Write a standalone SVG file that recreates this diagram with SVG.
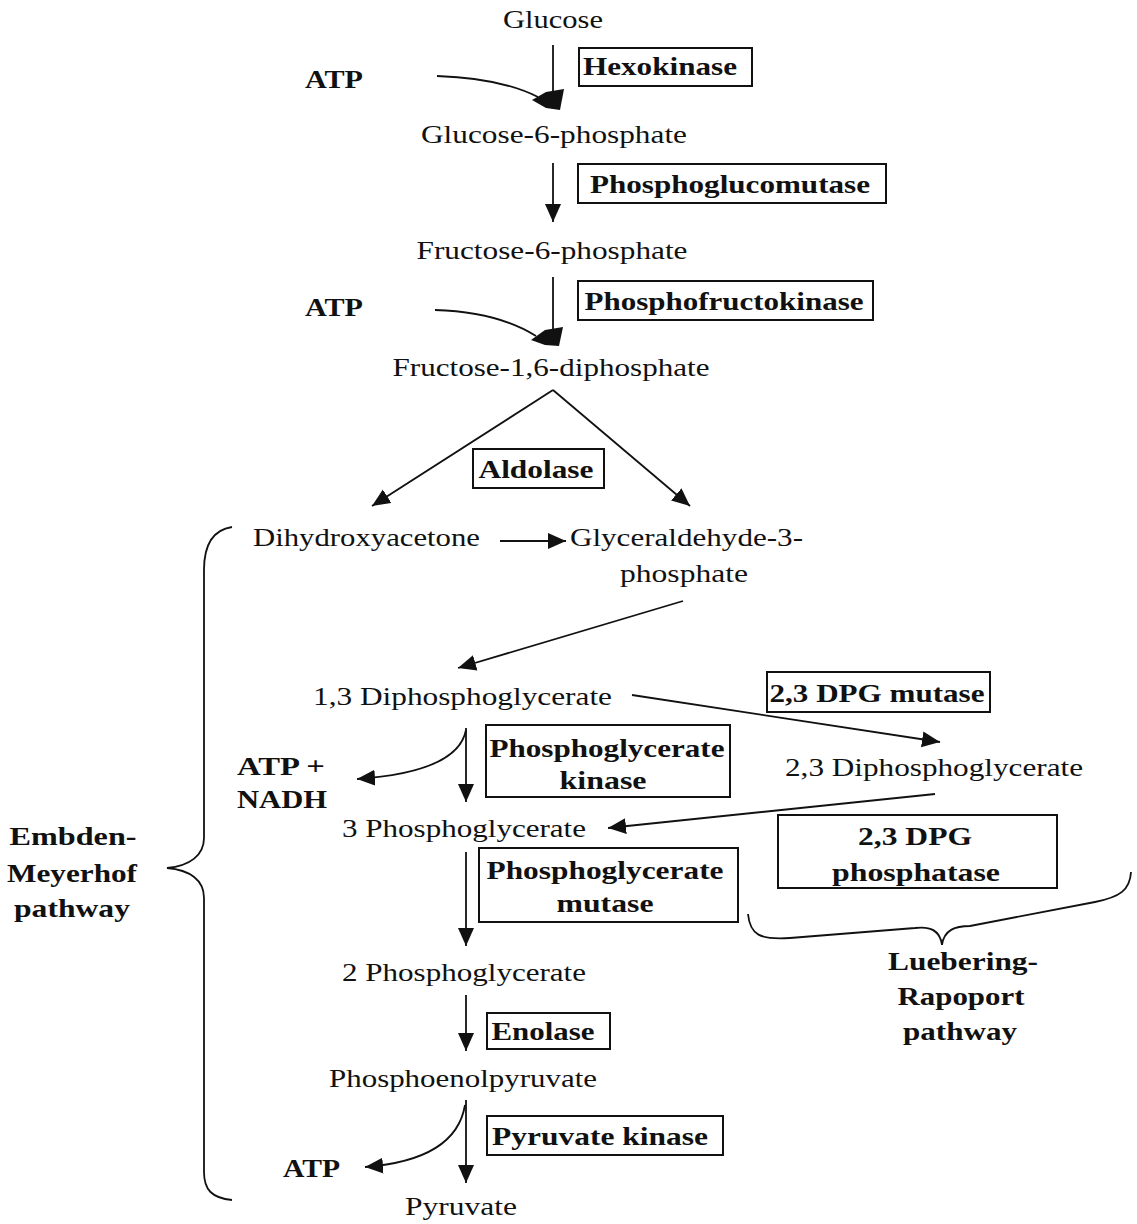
<svg xmlns="http://www.w3.org/2000/svg" width="1137" height="1224" viewBox="0 0 1137 1224">
<defs>
<style>
.t{font-family:"Liberation Serif","Times New Roman",serif;font-size:26px;fill:#111;}
.b{font-family:"Liberation Serif","Times New Roman",serif;font-size:26px;font-weight:bold;fill:#111;}
.box{fill:none;stroke:#111;stroke-width:2;}
.ln{fill:none;stroke:#111;stroke-width:1.8;}
</style>
<marker id="ah" markerUnits="userSpaceOnUse" markerWidth="22" markerHeight="18" refX="18" refY="8" orient="auto">
<path d="M0,0 L18,8 L0,16 z" fill="#111"/>
</marker>
</defs>
<rect width="1137" height="1224" fill="#fff"/>

<g id="connectors">
<line class="ln" x1="553" y1="45" x2="553" y2="94"/>
<path class="ln" d="M437,76 Q500,78 538,97"/>
<polygon points="532,100 546,92 564,89 560,110 546,108" fill="#111"/>
<line class="ln" x1="553" y1="163" x2="553" y2="222" marker-end="url(#ah)"/>
<line class="ln" x1="553" y1="277" x2="553" y2="330"/>
<path class="ln" d="M435,310 Q498,312 536,336"/>
<polygon points="531,340 545,330 563,327 559,346 545,345" fill="#111"/>
<line class="ln" x1="553" y1="390" x2="372" y2="506" marker-end="url(#ah)"/>
<line class="ln" x1="553" y1="390" x2="690" y2="506" marker-end="url(#ah)"/>
<line class="ln" x1="500" y1="541" x2="566" y2="541" marker-end="url(#ah)"/>
<line class="ln" x1="683" y1="601" x2="458" y2="668" marker-end="url(#ah)"/>
<line class="ln" x1="632" y1="695" x2="940" y2="742" marker-end="url(#ah)"/>
<line class="ln" x1="935" y1="794" x2="608" y2="828" marker-end="url(#ah)"/>
<line class="ln" x1="466" y1="728" x2="466" y2="802" marker-end="url(#ah)"/>
<path class="ln" d="M466,730 Q458,772 357,779" marker-end="url(#ah)"/>
<line class="ln" x1="466" y1="852" x2="466" y2="946" marker-end="url(#ah)"/>
<line class="ln" x1="466" y1="995" x2="466" y2="1051" marker-end="url(#ah)"/>
<line class="ln" x1="466" y1="1100" x2="466" y2="1183" marker-end="url(#ah)"/>
<path class="ln" d="M465,1105 Q456,1160 365,1167" marker-end="url(#ah)"/>
<path class="ln" d="M232,527 C212,530 204,545 204,570 L204,838 C204,855 190,866 167,868 C190,870 204,880 204,898 L204,1172 C204,1190 212,1198 232,1200"/>
<path class="ln" d="M748,914 C750,935 760,940 790,938 L915,928 C930,926 940,930 942,945 C944,930 955,926 970,926 L1095,902 C1120,897 1130,890 1131,872"/>
</g>

<g id="glucose"><text class="t" x="553" y="28" text-anchor="middle" textLength="100" lengthAdjust="spacingAndGlyphs">Glucose</text></g>
<g id="atp1"><text class="b" x="305" y="88" textLength="58" lengthAdjust="spacingAndGlyphs">ATP</text></g>
<g id="hexokinase"><rect class="box" x="579" y="48" width="173" height="38"/><text class="b" x="660" y="75" text-anchor="middle" textLength="154" lengthAdjust="spacingAndGlyphs">Hexokinase</text></g>
<g id="g6p"><text class="t" x="554" y="143" text-anchor="middle" textLength="266" lengthAdjust="spacingAndGlyphs">Glucose-6-phosphate</text></g>
<g id="phosphoglucomutase"><rect class="box" x="578" y="164" width="308" height="39"/><text class="b" x="730" y="193" text-anchor="middle" textLength="280" lengthAdjust="spacingAndGlyphs">Phosphoglucomutase</text></g>
<g id="f6p"><text class="t" x="552" y="259" text-anchor="middle" textLength="271" lengthAdjust="spacingAndGlyphs">Fructose-6-phosphate</text></g>
<g id="atp2"><text class="b" x="305" y="316" textLength="58" lengthAdjust="spacingAndGlyphs">ATP</text></g>
<g id="phosphofructokinase"><rect class="box" x="578" y="281" width="295" height="39"/><text class="b" x="724" y="310" text-anchor="middle" textLength="279" lengthAdjust="spacingAndGlyphs">Phosphofructokinase</text></g>
<g id="f16dp"><text class="t" x="551" y="376" text-anchor="middle" textLength="317" lengthAdjust="spacingAndGlyphs">Fructose-1,6-diphosphate</text></g>
<g id="aldolase"><rect class="box" x="473" y="449" width="131" height="39"/><text class="b" x="536" y="478" text-anchor="middle" textLength="115" lengthAdjust="spacingAndGlyphs">Aldolase</text></g>
<g id="dhap"><text class="t" x="253" y="546" textLength="227" lengthAdjust="spacingAndGlyphs">Dihydroxyacetone</text></g>
<g id="g3p"><text class="t" x="570" y="546" textLength="233" lengthAdjust="spacingAndGlyphs">Glyceraldehyde-3-</text><text class="t" x="684" y="582" text-anchor="middle" textLength="128" lengthAdjust="spacingAndGlyphs">phosphate</text></g>
<g id="bpg13"><text class="t" x="313" y="705" textLength="299" lengthAdjust="spacingAndGlyphs">1,3 Diphosphoglycerate</text></g>
<g id="dpgmutase"><rect class="box" x="767" y="672" width="223" height="40"/><text class="b" x="877" y="702" text-anchor="middle" textLength="215" lengthAdjust="spacingAndGlyphs">2,3 DPG mutase</text></g>
<g id="bpg23"><text class="t" x="785" y="776" textLength="298" lengthAdjust="spacingAndGlyphs">2,3 Diphosphoglycerate</text></g>
<g id="atpnadh"><text class="b" x="237" y="775" textLength="88" lengthAdjust="spacingAndGlyphs">ATP +</text><text class="b" x="237" y="808" textLength="90" lengthAdjust="spacingAndGlyphs">NADH</text></g>
<g id="pgk"><rect class="box" x="486" y="725" width="244" height="72"/><text class="b" x="607" y="757" text-anchor="middle" textLength="235" lengthAdjust="spacingAndGlyphs">Phosphoglycerate</text><text class="b" x="603" y="789" text-anchor="middle" textLength="87" lengthAdjust="spacingAndGlyphs">kinase</text></g>
<g id="pg3"><text class="t" x="342" y="837" textLength="244" lengthAdjust="spacingAndGlyphs">3 Phosphoglycerate</text></g>
<g id="dpgphosphatase"><rect class="box" x="778" y="815" width="279" height="73"/><text class="b" x="915" y="845" text-anchor="middle" textLength="114" lengthAdjust="spacingAndGlyphs">2,3 DPG</text><text class="b" x="916" y="881" text-anchor="middle" textLength="168" lengthAdjust="spacingAndGlyphs">phosphatase</text></g>
<g id="pgm"><rect class="box" x="479" y="848" width="259" height="74"/><text class="b" x="605" y="879" text-anchor="middle" textLength="237" lengthAdjust="spacingAndGlyphs">Phosphoglycerate</text><text class="b" x="605" y="912" text-anchor="middle" textLength="97" lengthAdjust="spacingAndGlyphs">mutase</text></g>
<g id="pg2"><text class="t" x="342" y="981" textLength="244" lengthAdjust="spacingAndGlyphs">2 Phosphoglycerate</text></g>
<g id="enolase"><rect class="box" x="487" y="1013" width="123" height="36"/><text class="b" x="543" y="1040" text-anchor="middle" textLength="103" lengthAdjust="spacingAndGlyphs">Enolase</text></g>
<g id="pep"><text class="t" x="329" y="1087" textLength="268" lengthAdjust="spacingAndGlyphs">Phosphoenolpyruvate</text></g>
<g id="pyruvatekinase"><rect class="box" x="487" y="1116" width="236" height="39"/><text class="b" x="600" y="1145" text-anchor="middle" textLength="216" lengthAdjust="spacingAndGlyphs">Pyruvate kinase</text></g>
<g id="atp3"><text class="b" x="283" y="1177" textLength="57" lengthAdjust="spacingAndGlyphs">ATP</text></g>
<g id="pyruvate"><text class="t" x="461" y="1215" text-anchor="middle" textLength="112" lengthAdjust="spacingAndGlyphs">Pyruvate</text></g>
<g id="emp"><text class="b" x="73" y="845" text-anchor="middle" textLength="127" lengthAdjust="spacingAndGlyphs">Embden-</text><text class="b" x="72" y="882" text-anchor="middle" textLength="130" lengthAdjust="spacingAndGlyphs">Meyerhof</text><text class="b" x="72" y="917" text-anchor="middle" textLength="116" lengthAdjust="spacingAndGlyphs">pathway</text></g>
<g id="lrp"><text class="b" x="963" y="970" text-anchor="middle" textLength="150" lengthAdjust="spacingAndGlyphs">Luebering-</text><text class="b" x="961" y="1005" text-anchor="middle" textLength="127" lengthAdjust="spacingAndGlyphs">Rapoport</text><text class="b" x="960" y="1040" text-anchor="middle" textLength="114" lengthAdjust="spacingAndGlyphs">pathway</text></g>
</svg>
